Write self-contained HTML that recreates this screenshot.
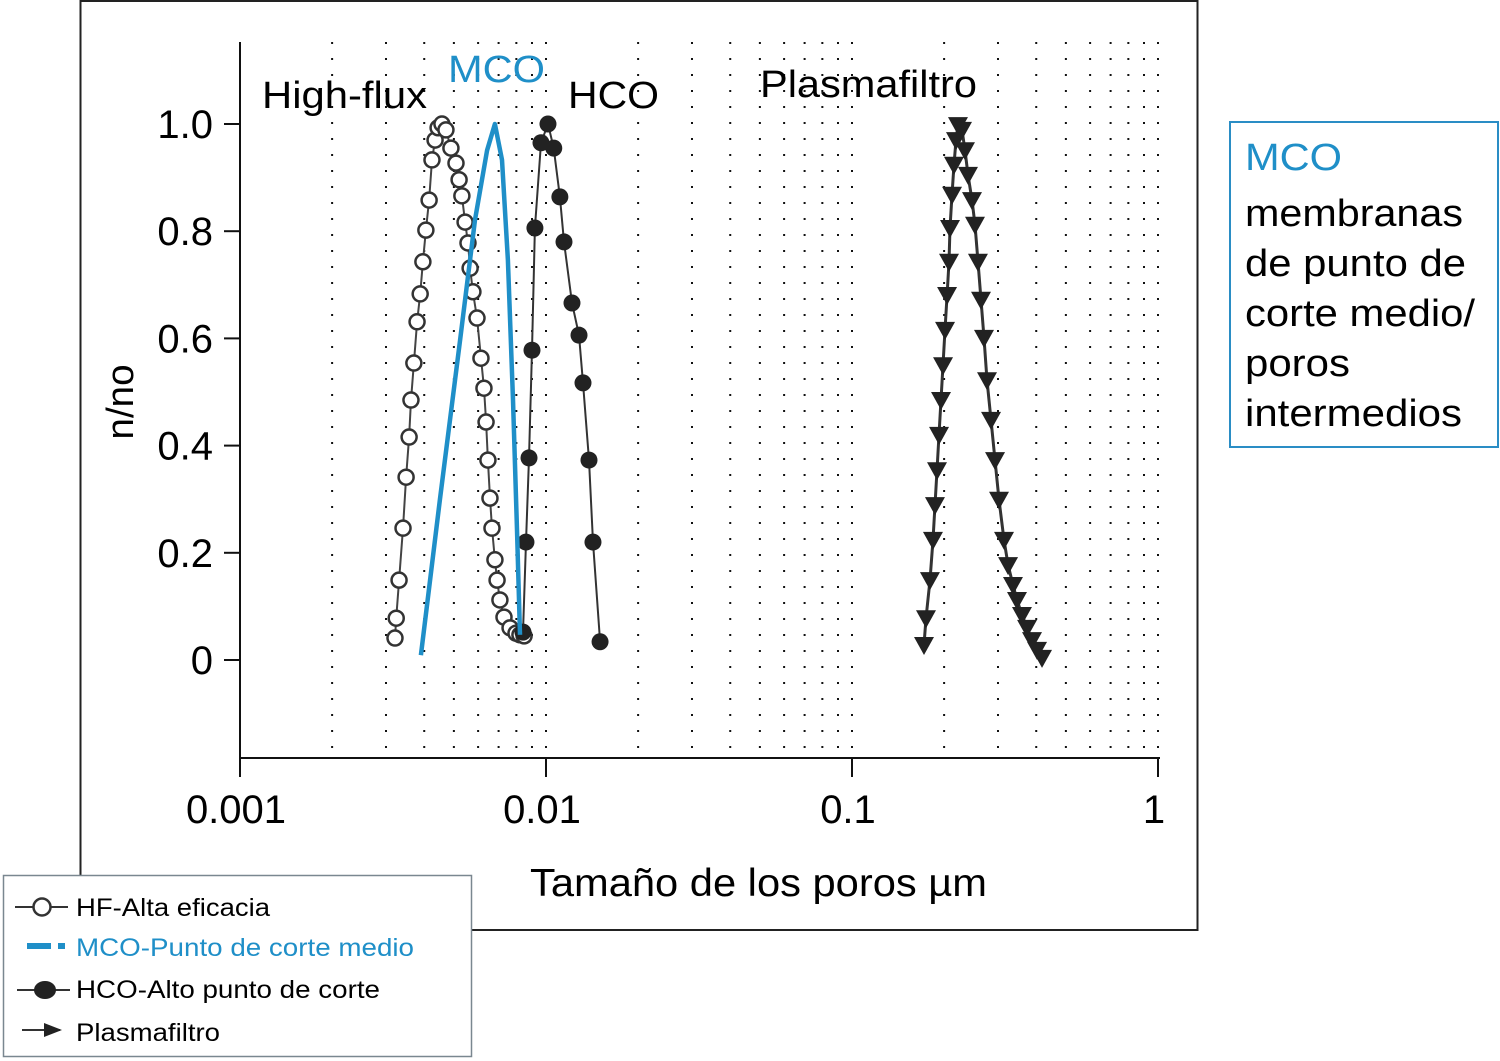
<!DOCTYPE html>
<html><head><meta charset="utf-8">
<style>
html,body{margin:0;padding:0;background:#fff;}
body{width:1500px;height:1061px;overflow:hidden;position:relative;font-family:"Liberation Sans",Arial,sans-serif;}
svg{position:absolute;left:0;top:0;}
</style></head>
<body>
<svg id="chart" width="1500" height="1061" xmlns="http://www.w3.org/2000/svg" font-family="Liberation Sans, Arial, sans-serif">
  <rect x="80.5" y="1" width="1117" height="929" fill="none" stroke="#222" stroke-width="2"/>
  <g id="grid"></g>
  <g id="axes"></g>
  <g id="series"></g>
  <text transform="translate(133,402) rotate(-90)" text-anchor="middle" font-size="38" textLength="75" lengthAdjust="spacingAndGlyphs">n/no</text>
  <text x="530" y="896" font-size="39" textLength="457" lengthAdjust="spacingAndGlyphs">Tamaño de los poros µm</text>
  <text x="262" y="108" font-size="38" textLength="165" lengthAdjust="spacingAndGlyphs">High-flux</text>
  <text x="448" y="82" font-size="38" fill="#1f8fc8" textLength="97" lengthAdjust="spacingAndGlyphs">MCO</text>
  <text x="568" y="108" font-size="38" textLength="91" lengthAdjust="spacingAndGlyphs">HCO</text>
  <text x="760" y="97" font-size="38" textLength="217" lengthAdjust="spacingAndGlyphs">Plasmafiltro</text>

  <g>
    <rect x="3.5" y="875.5" width="468" height="181" fill="#fff" stroke="#7a8790" stroke-width="1.5"/>
    <g>
      <line x1="15" y1="907" x2="68" y2="907" stroke="#333" stroke-width="2"/>
      <circle cx="42" cy="907" r="8.5" fill="#fff" stroke="#333" stroke-width="2.5"/>
      <text x="76" y="916" font-size="25" textLength="194" lengthAdjust="spacingAndGlyphs">HF-Alta eficacia</text>
    </g>
    <g>
      <rect x="27" y="943" width="24" height="6" fill="#1f8fc8"/>
      <rect x="58" y="943" width="7" height="6" fill="#1f8fc8"/>
      <text x="76" y="956" font-size="25" fill="#1f8fc8" textLength="338" lengthAdjust="spacingAndGlyphs">MCO-Punto de corte medio</text>
    </g>
    <g>
      <line x1="17" y1="990" x2="70" y2="990" stroke="#333" stroke-width="2"/>
      <ellipse cx="45" cy="990" rx="11" ry="9" fill="#222"/>
      <text x="76" y="998" font-size="25" textLength="304" lengthAdjust="spacingAndGlyphs">HCO-Alto punto de corte</text>
    </g>
    <g>
      <line x1="22" y1="1030" x2="60" y2="1030" stroke="#333" stroke-width="2"/>
      <polygon points="44,1023 62,1030 44,1037" fill="#222"/>
      <text x="76" y="1041" font-size="25" textLength="144" lengthAdjust="spacingAndGlyphs">Plasmafiltro</text>
    </g>
  </g>

  <g>
    <rect x="1230" y="122" width="268" height="325" fill="#fff" stroke="#2a8dc5" stroke-width="2"/>
    <text x="1245" y="170" font-size="38" fill="#1f8fc8" textLength="97" lengthAdjust="spacingAndGlyphs">MCO</text>
    <text x="1245" y="226" font-size="38" textLength="218" lengthAdjust="spacingAndGlyphs">membranas</text>
    <text x="1245" y="276" font-size="38" textLength="221" lengthAdjust="spacingAndGlyphs">de punto de</text>
    <text x="1245" y="326" font-size="38" textLength="230" lengthAdjust="spacingAndGlyphs">corte medio/</text>
    <text x="1245" y="376" font-size="38" textLength="105" lengthAdjust="spacingAndGlyphs">poros</text>
    <text x="1245" y="426" font-size="38" textLength="217" lengthAdjust="spacingAndGlyphs">intermedios</text>
  </g>
</svg>
<script>
// ---- data ----
const xTickValues = [0.001, 0.01, 0.1, 1];
const xTickLabels = ["0.001", "0.01", "0.1", "1"];
const yTickValues = [0, 0.2, 0.4, 0.6, 0.8, 1.0];
const yTickLabels = ["0", "0.2", "0.4", "0.6", "0.8", "1.0"];

const hfX = [0.00321,0.00324,0.00331,0.00341,0.00349,0.00357,0.00362,0.00370,0.00379,0.00388,0.00396,0.00405,0.00415,0.00424,0.00434,0.00444,0.00457,0.00471,0.00489,0.00508,0.00520,0.00531,0.00544,0.00556,0.00565,0.00577,0.00595,0.00613,0.00627,0.00637,0.00646,0.00656,0.00666,0.00681,0.00692,0.00707,0.00729,0.00763,0.00798,0.00822,0.00848];
const hfY = [0.041,0.078,0.149,0.246,0.341,0.416,0.485,0.554,0.631,0.683,0.743,0.802,0.858,0.933,0.970,0.993,1.0,0.989,0.955,0.927,0.896,0.866,0.817,0.778,0.731,0.687,0.638,0.563,0.507,0.444,0.373,0.302,0.246,0.187,0.149,0.112,0.080,0.060,0.050,0.047,0.045];

const mcoX = [0.0039,0.0045,0.00524,0.00586,0.00642,0.00681,0.00718,0.00751,0.0078,0.00804,0.00822];
const mcoY = [0.009,0.299,0.597,0.821,0.951,1.0,0.933,0.746,0.485,0.243,0.047];

const hcoX = [0.00841,0.0086,0.0088,0.009,0.0092,0.00963,0.01015,0.0106,0.0111,0.01145,0.01216,0.01282,0.01321,0.01382,0.01424,0.01502];
const hcoY = [0.052,0.22,0.377,0.578,0.806,0.965,1.0,0.955,0.864,0.78,0.666,0.606,0.517,0.373,0.22,0.034];

const pfX = [0.1719,0.1745,0.1798,0.1839,0.1867,0.1896,0.1925,0.1954,0.1984,0.2014,0.2045,0.2075,0.2091,0.2123,0.2154,0.2187,0.2220,0.2288,0.2340,0.2394,0.2467,0.2523,0.2580,0.2640,0.2700,0.2762,0.2847,0.2934,0.3023,0.3139,0.3236,0.3358,0.3461,0.3593,0.3733,0.3875,0.4024,0.4178];
const pfY = [0.028,0.078,0.149,0.224,0.289,0.354,0.42,0.485,0.55,0.616,0.681,0.743,0.806,0.868,0.924,0.97,0.998,0.989,0.951,0.905,0.858,0.812,0.743,0.672,0.601,0.522,0.448,0.373,0.299,0.224,0.177,0.14,0.112,0.084,0.06,0.037,0.019,0.004];

// ---- scales ----
const X0 = 240, DEC = 306, Y0 = 660, YU = 536;
function sx(v){ return X0 + (Math.log10(v) + 3) * DEC; }
function sy(v){ return Y0 - v * YU; }
const NS = "http://www.w3.org/2000/svg";
function mk(tag, attrs, parent){
  const e = document.createElementNS(NS, tag);
  for (const k in attrs) e.setAttribute(k, attrs[k]);
  parent.appendChild(e);
  return e;
}
const grid = document.getElementById('grid');
const axes = document.getElementById('axes');
const series = document.getElementById('series');

for (let d = -3; d < 0; d++){
  for (let m = 2; m <= 10; m++){
    const x = sx(m * Math.pow(10, d));
    const gl = mk('line', {x1:x, y1:42, x2:x, y2:758, stroke:'#111', 'stroke-width':2, 'stroke-dasharray':'2 14'}, grid);
    
    
  }
}

mk('line', {x1:240, y1:42, x2:240, y2:759, stroke:'#111', 'stroke-width':2}, axes);
mk('line', {x1:240, y1:758, x2:1160, y2:758, stroke:'#111', 'stroke-width':2}, axes);
xTickValues.forEach((v, i) => {
  const x = sx(v);
  mk('line', {x1:x, y1:758, x2:x, y2:777, stroke:'#111', 'stroke-width':2}, axes);
  const t = mk('text', {x:x - 4, y:823, 'text-anchor':'middle', 'font-size':40}, axes);
  t.textContent = xTickLabels[i];
  
  
});
yTickValues.forEach((v, i) => {
  const y = sy(v);
  mk('line', {x1:224, y1:y, x2:240, y2:y, stroke:'#111', 'stroke-width':2}, axes);
  const t = mk('text', {x:213, y:y + 14, 'text-anchor':'end', 'font-size':40}, axes);
  t.textContent = yTickLabels[i];
  
  
});

function pts(xs, ys){ return xs.map((v, i) => sx(v).toFixed(1) + ',' + sy(ys[i]).toFixed(1)).join(' '); }

const hfLine = mk('polyline', {points:pts(hfX, hfY), fill:'none', stroke:'#444', 'stroke-width':2}, series);


hfX.forEach((v, i) => {
  const c = mk('circle', {cx:sx(v), cy:sy(hfY[i]), r:7.5, fill:'#fff', stroke:'#333', 'stroke-width':2.5}, series);
  
  
});

const hcoLine = mk('polyline', {points:pts(hcoX, hcoY), fill:'none', stroke:'#333', 'stroke-width':2}, series);


hcoX.forEach((v, i) => {
  const c = mk('circle', {cx:sx(v), cy:sy(hcoY[i]), r:8.5, fill:'#222'}, series);
  
  
});

const pfLine = mk('polyline', {points:pts(pfX, pfY), fill:'none', stroke:'#333', 'stroke-width':3}, series);


pfX.forEach((v, i) => {
  const x = sx(v), y = sy(pfY[i]);
  const p = mk('polygon', {points:(x-10)+','+(y-8)+' '+(x+10)+','+(y-8)+' '+x+','+(y+10), fill:'#222'}, series);
  
  
});

const mcoLine = mk('polyline', {points:pts(mcoX, mcoY), fill:'none', stroke:'#1f8fc8', 'stroke-width':4.5, 'stroke-linejoin':'round'}, series);


</script>
</body></html>
